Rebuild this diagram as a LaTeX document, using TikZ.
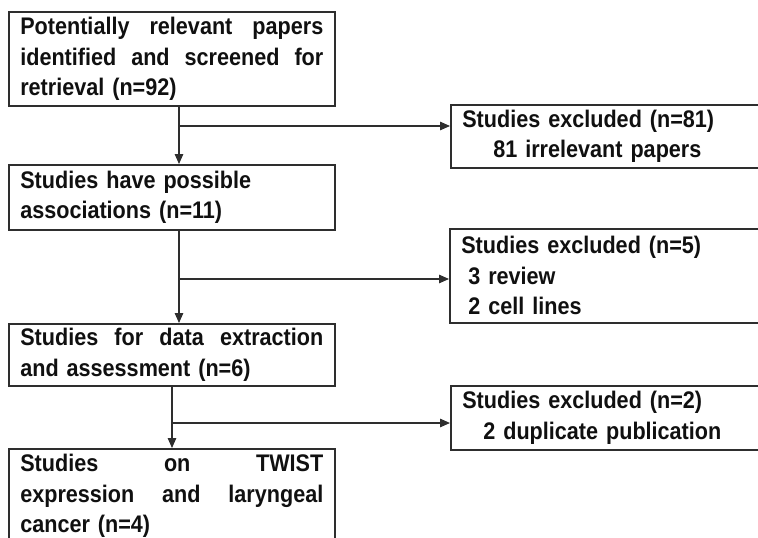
\documentclass[tikz,border=0pt]{standalone}
\usepackage{fontspec}
\setmainfont[FakeStretch=0.9]{Liberation Sans}
\usetikzlibrary{arrows.meta}
\definecolor{linec}{HTML}{2E2E2E}
\definecolor{textc}{HTML}{101010}
\tikzset{
  mainbox/.style={draw=linec, line width=1.6pt, fill=white, anchor=north west,
    text width=303pt, inner xsep=11.5pt, inner ysep=0pt, align=left,
    font=\bfseries\fontsize{24}{30.5}\selectfont, text=textc},
  exbox/.style={mainbox, text width=380pt},
  arr/.style={draw=linec, line width=1.3pt, -{Triangle[length=10pt,width=8.5pt]}},
  link/.style={draw=linec, line width=1.3pt}
}
\begin{document}
\begin{tikzpicture}[x=1pt,y=-1pt]
\clip (0,0) rectangle (758,538);
\fill[white] (0,0) rectangle (758,538);

\node[mainbox, minimum height=94pt] (b1) at (8,11)
  {Potentially\hfill relevant\hfill papers\\
   identified\hfill and\hfill screened\hfill for\\
   retrieval (n=92)};
\node[mainbox, minimum height=65pt] (b2) at (8,164)
  {Studies have possible\\associations (n=11)};
\node[mainbox, minimum height=62pt] (b3) at (8,323)
  {Studies\hfill for\hfill data\hfill extraction\\
   and assessment (n=6)};
\node[mainbox, minimum height=94pt] (b4) at (8,448)
  {Studies\hfill on\hfill TWIST\\
   expression\hfill and\hfill laryngeal\\
   cancer (n=4)};

\node[exbox, minimum height=63pt] (e1) at (450,104)
  {Studies excluded (n=81)\\\hspace*{31pt}81 irrelevant papers};
\node[exbox, minimum height=94pt] (e2) at (449,228)
  {Studies excluded (n=5)\\\hspace*{7pt}3 review\\\hspace*{7pt}2 cell lines};
\node[exbox, minimum height=64pt] (e3) at (450,385)
  {Studies excluded (n=2)\\\hspace*{21pt}2 duplicate publication};

\coordinate (j1) at (179,126);
\coordinate (j2) at (179,279);
\coordinate (j3) at (172,423);

\draw[arr] (j1 |- b1.south) -- (j1 |- b2.north);
\draw[arr] (j1) -- (j1 -| e1.west);
\draw[arr] (j2 |- b2.south) -- (j2 |- b3.north);
\draw[arr] (j2) -- (j2 -| e2.west);
\draw[arr] (j3 |- b3.south) -- (j3 |- b4.north);
\draw[arr] (j3) -- (j3 -| e3.west);
\end{tikzpicture}
\end{document}
